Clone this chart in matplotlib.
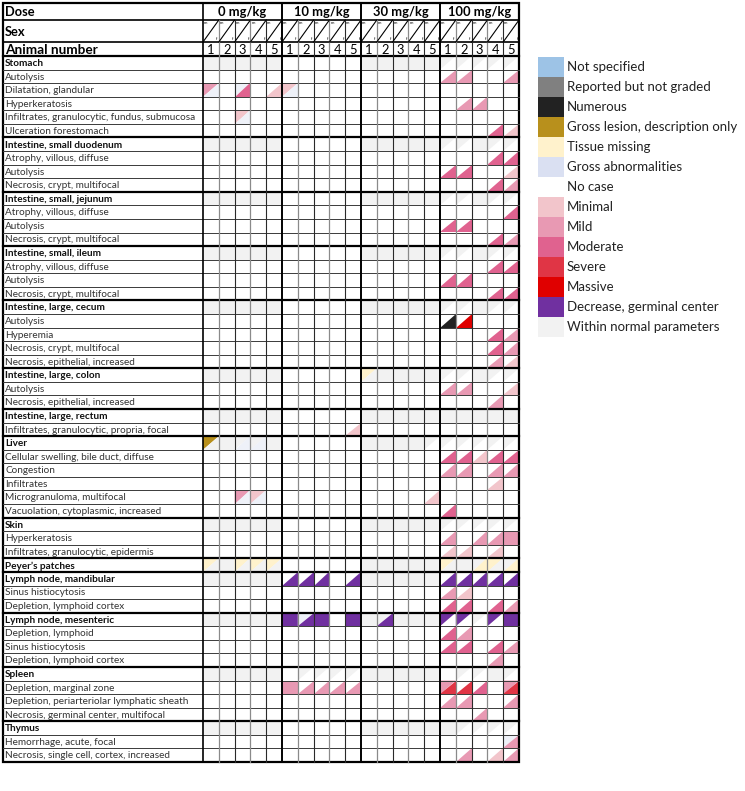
import matplotlib
matplotlib.use('Agg')
import matplotlib.pyplot as plt
from matplotlib.patches import Polygon, Rectangle

plt.rcParams['font.family'] = ['Lato', 'DejaVu Sans']

doses = ['0 mg/kg', '10 mg/kg', '30 mg/kg', '100 mg/kg']
animals = ['1', '2', '3', '4', '5']

labels = [
    'Stomach', 'Autolysis', 'Dilatation, glandular', 'Hyperkeratosis',
    'Infiltrates, granulocytic, fundus, submucosa', 'Ulceration forestomach',
    'Intestine, small duodenum', 'Atrophy, villous, diffuse', 'Autolysis', 'Necrosis, crypt, multifocal',
    'Intestine, small, jejunum', 'Atrophy, villous, diffuse', 'Autolysis', 'Necrosis, crypt, multifocal',
    'Intestine, small, ileum', 'Atrophy, villous, diffuse', 'Autolysis', 'Necrosis, crypt, multifocal',
    'Intestine, large, cecum', 'Autolysis', 'Hyperemia', 'Necrosis, crypt, multifocal',
    'Necrosis, epithelial, increased',
    'Intestine, large, colon', 'Autolysis', 'Necrosis, epithelial, increased',
    'Intestine, large, rectum', 'Infiltrates, granulocytic, propria, focal',
    'Liver', 'Cellular swelling, bile duct, diffuse', 'Congestion', 'Infiltrates',
    'Microgranuloma, multifocal', 'Vacuolation, cytoplasmic, increased',
    'Skin', 'Hyperkeratosis', 'Infiltrates, granulocytic, epidermis',
    'Peyer\u2019s patches',
    'Lymph node, mandibular', 'Sinus histiocytosis', 'Depletion, lymphoid cortex',
    'Lymph node, mesenteric', 'Depletion, lymphoid', 'Sinus histiocytosis', 'Depletion, lymphoid cortex',
    'Spleen', 'Depletion, marginal zone', 'Depletion, periarteriolar lymphatic sheath',
    'Necrosis, germinal center, multifocal',
    'Thymus', 'Hemorrhage, acute, focal', 'Necrosis, single cell, cortex, increased',
]

organs = ['Stomach', 'Intestine, small duodenum', 'Intestine, small, jejunum', 'Intestine, small, ileum',
          'Intestine, large, cecum', 'Intestine, large, colon', 'Intestine, large, rectum', 'Liver',
          'Skin', 'Peyer\u2019s patches', 'Lymph node, mandibular', 'Lymph node, mesenteric',
          'Spleen', 'Thymus']

# each cell: first char = male (upper-left triangle), second = female (lower-right)
E = '.. .. .. .. ..'
W = 'ww ww ww ww ww'
H100 = 'w. w. ww w. w.'
cells = [
    [W, E, W, 'w. w. w. w. w.'],
    [E, E, E, '.2 .2 .. .. .2'],
    ['2b .. b3 .. .1', '1b .. .. .. ..', E, E],
    [E, E, E, '.. .2 .2 .. ..'],
    ['.. .. 1b .. ..', E, E, E],
    [E, E, E, '.. .. .. .3 .1'],
    [W, E, W, H100],
    [E, E, E, '.. .. .. .3 .3'],
    [E, E, E, '.3 .3 .. .. .1'],
    [E, E, E, '.. .. .. .3 .2'],
    [W, E, W, H100],
    [E, E, E, '.. .. .. .. .3'],
    [E, E, E, '.3 .3 .. .. ..'],
    [E, E, E, '.. .. .. .3 .2'],
    [W, E, W, H100],
    [E, E, E, '.. .. .. .3 .3'],
    [E, E, E, '.3 .3 .. .. ..'],
    [E, E, E, '.. .. .. .3 .3'],
    [W, E, W, H100],
    [E, E, E, '.n .5 .. .. ..'],
    [E, E, E, '.. .. .. .3 .2'],
    [E, E, E, '.. .. .. .3 .2'],
    [E, E, E, '.. .. .. .2 .1'],
    [W, E, 'tw ww ww ww ww', H100],
    [E, E, E, '.2 .2 .. .. .1'],
    [E, E, E, '.. .. .. .2 ..'],
    [W, E, W, W],
    [E, '.. .. .. .. .1', E, E],
    ['gw ww wb wb ww', E, 'ww ww ww ww w.', 'w. w. w. w. w.'],
    [E, E, E, '.3 .3 .1 .3 .3'],
    [E, E, E, '.2 .2 .. .2 .2'],
    [E, E, E, '.. .. .. .1 ..'],
    ['.. .. 2b 1b ..', E, '.. .. .. .. .1', E],
    [E, E, E, '.3 .. .. .. ..'],
    [W, E, W, 'w. w. w. w. w.'],
    [E, E, E, '.2 .. .2 .2 22'],
    [E, E, E, '.1 .1 .. .1 ..'],
    ['tw ww tw tw tw', E, W, 'tw ww wt tw wt'],
    [W, '.d .d .d .. .d', W, '.d .d .d .d .d'],
    [E, E, E, '.2 .1 .. .. ..'],
    [E, E, E, '.3 .3 .. .3 .2'],
    [W, 'dd bd dd .. dd', 'ww wd ww ww ww', 'd. d. w. d. dd'],
    [E, E, E, '.3 .2 .. .. ..'],
    [E, E, E, '.3 .3 .. .3 .2'],
    [E, E, E, '.. .. .. .2 ..'],
    [W, '.. w. w. w. w.', W, '.. w. w. ww w.'],
    [E, '22 .2 .2 .2 .2', E, '24 .4 .3 .. 24'],
    [E, E, E, '.2 .2 .. .. .2'],
    [E, E, E, '.. .. .2 .. ..'],
    [W, E, W, 'ww w. w. w. w.'],
    [E, E, E, '.. .. .. .. b2'],
    [E, E, E, '.. .2 .. .1 .2'],
]

legend_names = ['Not specified', 'Reported but not graded', 'Numerous', 'Gross lesion, description only',
                'Tissue missing', 'Gross abnormalities', 'No case', 'Minimal', 'Mild', 'Moderate',
                'Severe', 'Massive', 'Decrease, germinal center', 'Within normal parameters']
legend_codes = ['s', 'r', 'n', 'g', 't', 'a', '.', '1', '2', '3', '4', '5', 'd', 'w']

colors = {'s': '#9DC3E6', 'r': '#808080', 'n': '#222222', 'g': '#B8901C', 't': '#FFF2CC',
          'a': '#DAE0F2', '.': '#FFFFFF', '1': '#F2C5CB', '2': '#E899B3', '3': '#E0628F',
          '4': '#E03545', '5': '#E00000', 'd': '#7030A0', 'w': '#F2F2F2', 'b': '#EEF1F8'}

fig = plt.figure(figsize=(7.45, 7.91), dpi=100)
ax = fig.add_axes([0, 0, 1, 1])
ax.set_xlim(0, 745)
ax.set_ylim(791, 0)
ax.axis('off')

left, xg, right = 3, 203, 519
cw = (right - xg) / 20
y_dose, y_sex, y_an, y_data, bottom = 3, 20, 42, 56, 762
rh = (bottom - y_data) / len(labels)

# cells
for i, row in enumerate(cells):
    toks = ' '.join(row).split()
    yt = y_data + i * rh
    yb = yt + rh
    for j, t in enumerate(toks):
        x = xg + j * cw
        m, f = t[0], t[1]
        if m == f:
            if m != '.':
                ax.add_patch(Rectangle((x, yt), cw, rh, color=colors[m], lw=0))
            continue
        if m != '.':
            ax.add_patch(Polygon([(x, yt), (x + cw, yt), (x, yb)], closed=True, color=colors[m], lw=0))
        if f != '.':
            ax.add_patch(Polygon([(x + cw, yt), (x + cw, yb), (x, yb)], closed=True, color=colors[f], lw=0))

# horizontal lines
ax.plot([left, right], [y_sex, y_sex], color='black', lw=1.2)
ax.plot([left, right], [y_an, y_an], color='black', lw=1.2)
ax.plot([left, right], [y_data, y_data], color='black', lw=1.6)
for i in range(1, len(labels)):
    yy = y_data + i * rh
    if labels[i] in organs:
        ax.plot([left, right], [yy, yy], color='black', lw=1.6)
    else:
        ax.plot([left, right], [yy, yy], color='#3a3a3a', lw=0.7)

# vertical lines
for j in range(1, 20):
    xx = xg + j * cw
    if j % 5 == 0:
        ax.plot([xx, xx], [y_dose, bottom], color='black', lw=1.4)
    elif j % 5 in (1, 3):
        ax.plot([xx, xx], [y_sex, bottom], color='#8a8a8a', lw=0.9)
    else:
        ax.plot([xx, xx], [y_sex, bottom], color='#2a2a2a', lw=0.8)
ax.plot([xg, xg], [y_dose, bottom], color='black', lw=1.2)
ax.add_patch(Rectangle((left, y_dose), right - left, bottom - y_dose, fill=False, ec='black', lw=1.6))

# header text
ax.text(5, (y_dose + y_sex) / 2 + 0.5, 'Dose', fontsize=9.3, fontweight='bold', va='center')
ax.text(5, 32, 'Sex', fontsize=9.3, fontweight='bold', va='center')
ax.text(5, (y_an + y_data) / 2 + 0.5, 'Animal number', fontsize=9.8, fontweight='bold', va='center')
for g, d in enumerate(doses):
    ax.text(xg + (g * 5 + 2.5) * cw, (y_dose + y_sex) / 2 + 0.5, d, fontsize=9.3, fontweight='bold',
            ha='center', va='center')
for j in range(20):
    x = xg + j * cw
    ax.plot([x, x + cw], [y_an, y_sex], color='black', lw=0.8)
    ax.text(x + 1, y_sex + 3.5, 'm', fontsize=3, va='center')
    ax.text(x + cw - 1, y_an - 3.5, 'f', fontsize=3, ha='right', va='center')
    ax.text(x + cw / 2, (y_an + y_data) / 2 + 0.5, animals[j % 5], fontsize=9.3, ha='center', va='center')

for i, lab in enumerate(labels):
    bold = lab in organs
    ax.text(5, y_data + (i + 0.55) * rh, lab, fontsize=7.2, va='center',
            fontweight='bold' if bold else 'normal', color='#111111' if bold else '#333333')

# legend
lx, ly, lh = 538, 57, 20
for k, (name, code) in enumerate(zip(legend_names, legend_codes)):
    if code != '.':
        ax.add_patch(Rectangle((lx, ly + k * lh), 26, lh, color=colors[code], lw=0))
    ax.text(lx + 29, ly + (k + 0.5) * lh, name, fontsize=9.5, va='center', color='#222222')

fig.savefig('out.png', dpi=100)
